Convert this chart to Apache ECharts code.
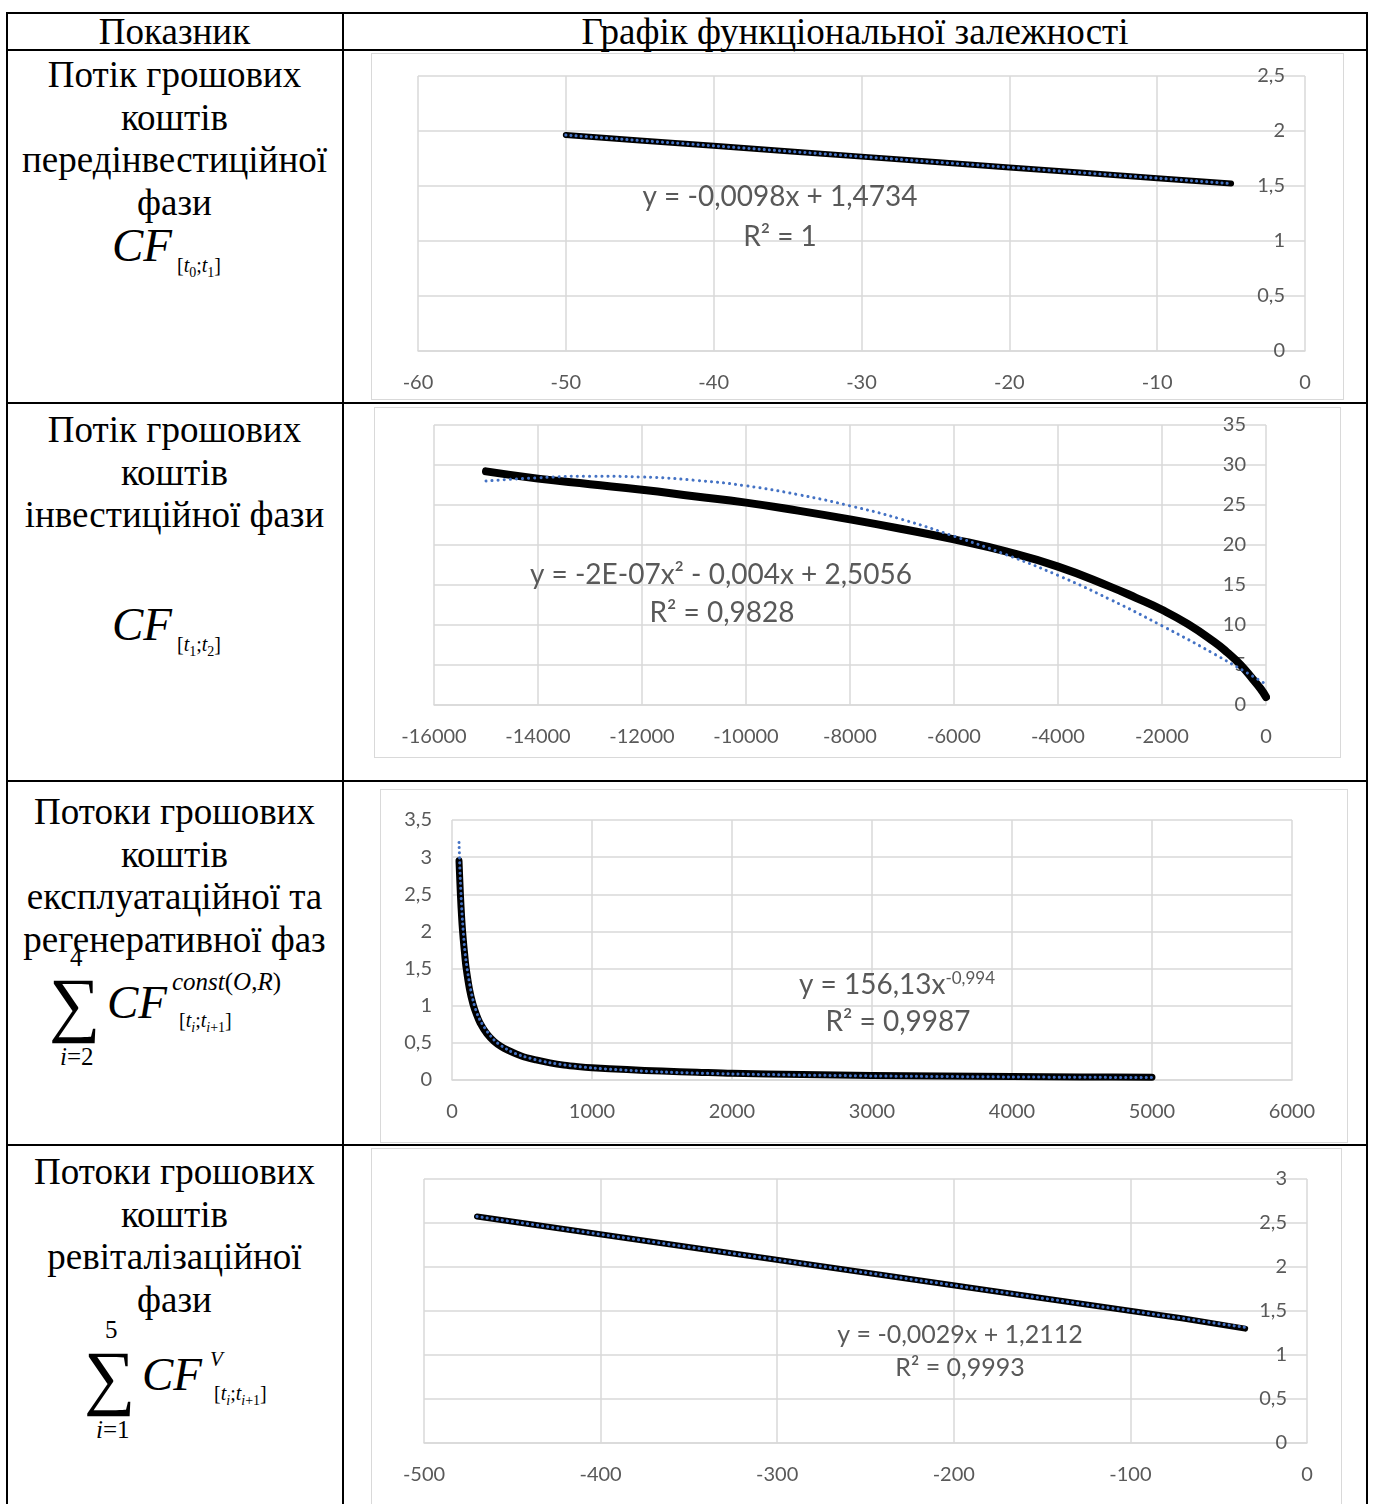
<!DOCTYPE html>
<html>
<head>
<meta charset="utf-8">
<script src="https://cdn.jsdelivr.net/npm/echarts@6/dist/echarts.min.js"></script>
<style>
body { margin: 0; background: #fff; }
#page { position: relative; width: 1375px; height: 1504px; overflow: hidden; font-family: 'Liberation Serif', 'Times New Roman', serif; color: #000; }
.ln { position: absolute; background: #000; }
.t { position: absolute; white-space: nowrap; }
.cell { position: absolute; left: 6px; width: 337px; text-align: center; font-size: 37px; line-height: 42.7px; }
.chart { position: absolute; outline: 1.5px solid #d9d9d9; }
.sb { font-size: 14px; }
i { font-style: italic; }
</style>
</head>
<body>
<div id="page">
  <!-- table lines -->
  <div class="ln" style="left:6px;top:12px;width:1362px;height:2px"></div>
  <div class="ln" style="left:6px;top:49px;width:1362px;height:2px"></div>
  <div class="ln" style="left:6px;top:402px;width:1362px;height:2px"></div>
  <div class="ln" style="left:6px;top:780px;width:1362px;height:2px"></div>
  <div class="ln" style="left:6px;top:1144px;width:1362px;height:2px"></div>
  <div class="ln" style="left:6px;top:12px;width:2px;height:1492px"></div>
  <div class="ln" style="left:342px;top:12px;width:2px;height:1492px"></div>
  <div class="ln" style="left:1366px;top:12px;width:2px;height:1492px"></div>

  <!-- header -->
  <div class="cell" style="top:11px">Показник</div>
  <div class="cell" style="top:11px;left:343px;width:1024px">Графік функціональної залежності</div>

  <!-- left column -->
  <div class="cell" style="top:54px">Потік грошових<br>коштів<br>передінвестиційної<br>фази</div>
  <div class="t" style="left:112px;top:222px;font-size:47px;line-height:46px"><i>CF</i></div>
  <div class="t" style="left:177px;top:254px;font-size:20px;line-height:22px">[<i>t</i><sub class="sb">0</sub>;<i>t</i><sub class="sb">1</sub>]</div>

  <div class="cell" style="top:409px">Потік грошових<br>коштів<br>інвестиційної фази</div>
  <div class="t" style="left:112px;top:601px;font-size:47px;line-height:46px"><i>CF</i></div>
  <div class="t" style="left:177px;top:633px;font-size:20px;line-height:22px">[<i>t</i><sub class="sb">1</sub>;<i>t</i><sub class="sb">2</sub>]</div>

  <div class="cell" style="top:791px">Потоки грошових<br>коштів<br>експлуатаційної та<br>регенеративної фаз</div>
  <div class="t" style="left:70px;top:946px;font-size:25px;line-height:24px">4</div>
  <div class="t" style="left:49px;top:966px;font-size:72px;line-height:76px">∑</div>
  <div class="t" style="left:60px;top:1045px;font-size:25px;line-height:24px"><i>i</i>=2</div>
  <div class="t" style="left:107px;top:979px;font-size:47px;line-height:46px"><i>CF</i></div>
  <div class="t" style="left:172px;top:970px;font-size:25px;line-height:24px"><i>const</i>(<i>O</i>,<i>R</i>)</div>
  <div class="t" style="left:179px;top:1009px;font-size:20px;line-height:22px">[<i>t<sub class="sb">i</sub></i>;<i>t<sub class="sb">i</sub></i><sub class="sb">+1</sub>]</div>

  <div class="cell" style="top:1151px">Потоки грошових<br>коштів<br>ревіталізаційної<br>фази</div>
  <div class="t" style="left:105px;top:1318px;font-size:25px;line-height:24px">5</div>
  <div class="t" style="left:84px;top:1339px;font-size:72px;line-height:76px">∑</div>
  <div class="t" style="left:96px;top:1418px;font-size:25px;line-height:24px"><i>i</i>=1</div>
  <div class="t" style="left:142px;top:1351px;font-size:47px;line-height:46px"><i>CF</i></div>
  <div class="t" style="left:210px;top:1349px;font-size:21px;line-height:20px"><i>V</i></div>
  <div class="t" style="left:214px;top:1382px;font-size:20px;line-height:22px">[<i>t<sub class="sb">i</sub></i>;<i>t<sub class="sb">i</sub></i><sub class="sb">+1</sub>]</div>

  <div id="c1" class="chart" style="left:372px;top:54px;width:971px;height:345px"></div>
  <div id="c2" class="chart" style="left:375px;top:408px;width:965px;height:349px"></div>
  <div id="c3" class="chart" style="left:381px;top:790px;width:966px;height:352px"></div>
  <div id="c4" class="chart" style="left:372px;top:1149px;width:969px;height:370px"></div>
</div>

<script>
// CF [t0;t1] - передінвестиційна фаза
const cf1X = [-50, -45, -40, -35, -30, -25, -20, -15, -10, -5];
const cf1Y = [1.963, 1.914, 1.865, 1.816, 1.767, 1.718, 1.669, 1.620, 1.571, 1.522];
const cf1TrendX = [-50, -5];
const cf1TrendY = [1.963, 1.522];

// CF [t1;t2] - інвестиційна фаза
const cf2X = [-15000, -14000, -13000, -12000, -11000, -10000, -9000, -8000, -7000, -6000, -5000, -4000, -3000, -2500, -2000, -1500, -1000, -750, -500, -250, -100, 0];
const cf2Y = [29.2, 28.3, 27.6, 26.9, 26.1, 25.3, 24.3, 23.2, 22.0, 20.7, 19.2, 17.3, 14.8, 13.4, 11.9, 10.1, 7.9, 6.6, 5.1, 3.2, 2.0, 1.0];
const cf2TrendX = [-15000, -14000, -13000, -12000, -11000, -10000, -9000, -8000, -7000, -6000, -5000, -4000, -3000, -2000, -1000, 0];
const cf2TrendY = [28.0, 28.4, 28.6, 28.5, 28.1, 27.4, 26.3, 24.9, 23.2, 21.1, 18.8, 16.2, 13.2, 9.9, 6.4, 2.6];

// експлуатаційна та регенеративна фази
const cf3X = [50, 60, 70, 80, 90, 100, 125, 150, 175, 200, 250, 300, 350, 400, 500, 600, 700, 800, 900, 1000, 1250, 1500, 1750, 2000, 2500, 3000, 3500, 4000, 4500, 5000];
const cf3Y = [2.95, 2.5, 2.15, 1.9, 1.7, 1.52, 1.22, 1.02, 0.88, 0.77, 0.62, 0.52, 0.45, 0.40, 0.32, 0.27, 0.23, 0.20, 0.18, 0.165, 0.14, 0.12, 0.105, 0.09, 0.075, 0.062, 0.054, 0.047, 0.041, 0.036];
const cf3TrendX = [50, 60, 75, 100, 150, 200, 300, 400, 500, 700, 1000, 1500, 2000, 3000, 4000, 5000];
const cf3TrendY = [3.197, 2.667, 2.136, 1.605, 1.073, 0.806, 0.539, 0.405, 0.324, 0.232, 0.163, 0.109, 0.082, 0.055, 0.041, 0.033];

// ревіталізаційна фаза
const cf4X = [-470, -420, -370, -320, -270, -220, -170, -120, -70, -35];
const cf4Y = [2.574, 2.429, 2.284, 2.139, 1.994, 1.849, 1.704, 1.559, 1.414, 1.30];
const cf4TrendX = [-470, -35];
const cf4TrendY = [2.574, 1.313];

const grey = '#595959';
const gridGrey = '#d9d9d9';

function pairs(xs, ys) {
    return xs.map((x, i) => [x, ys[i]]);
}

function comma(v) {
    return String(v).replace('.', ',');
}

function xAxisCfg(min, max, step) {
    return {
        type: 'value', min: min, max: max, interval: step,
        axisLine: { show: true, lineStyle: { color: gridGrey, width: 1.5 } },
        axisTick: { show: false },
        axisLabel: { color: grey, fontSize: 20, fontFamily: 'Lato', margin: 22, formatter: comma },
        splitLine: { show: true, lineStyle: { color: gridGrey, width: 1.5 } }
    };
}

function yAxisCfg(max, step, right) {
    return {
        type: 'value', min: 0, max: max, interval: step,
        position: right ? 'right' : 'left',
        axisLine: { show: false },
        axisTick: { show: false },
        axisLabel: { inside: !!right, color: grey, fontSize: 20, fontFamily: 'Lato', margin: 20, formatter: comma },
        splitLine: { show: true, lineStyle: { color: gridGrey, width: 1.5 } }
    };
}

function dataLine(pts, w, smooth) {
    return {
        type: 'line', data: pts, symbol: 'none', smooth: smooth, z: 2,
        lineStyle: { color: '#000', width: w, cap: 'round', join: 'round' }
    };
}

function trendLine(pts, gap, smooth) {
    return {
        type: 'line', data: pts, symbol: 'none', smooth: smooth, z: 3,
        lineStyle: { color: '#4472c4', width: 3, type: [0.1, gap], cap: 'round' }
    };
}

function label(x, y, text, size, rich) {
    return {
        type: 'text', x: x, y: y, z: 10,
        style: {
            text: text, align: 'center', verticalAlign: 'middle',
            fontSize: size, fontFamily: 'Lato', fill: grey, rich: rich
        }
    };
}

function draw(id, opt) {
    let chart = echarts.init(document.getElementById(id));
    opt.animation = false;
    chart.setOption(opt);
}

draw('c1', {
    grid: { left: 46, top: 22, width: 887, height: 275 },
    xAxis: xAxisCfg(-60, 0, 10),
    yAxis: yAxisCfg(2.5, 0.5, true),
    series: [
        dataLine(pairs(cf1X, cf1Y), 6, false),
        trendLine(pairs(cf1TrendX, cf1TrendY), 5, false)
    ],
    graphic: [
        label(408, 143, 'y = -0,0098x + 1,4734', 28),
        label(408, 183, 'R² = 1', 28)
    ]
});

draw('c2', {
    grid: { left: 59, top: 17, width: 832, height: 280 },
    xAxis: xAxisCfg(-16000, 0, 2000),
    yAxis: yAxisCfg(35, 5, true),
    series: [
        dataLine(pairs(cf2X, cf2Y), 8, true),
        trendLine(pairs(cf2TrendX, cf2TrendY), 6, true)
    ],
    graphic: [
        label(346, 167, 'y = -2E-07x² - 0,004x + 2,5056', 28),
        label(347, 205, 'R² = 0,9828', 28)
    ]
});

draw('c3', {
    grid: { left: 71, top: 30, width: 840, height: 260 },
    xAxis: xAxisCfg(0, 6000, 1000),
    yAxis: yAxisCfg(3.5, 0.5, false),
    series: [
        dataLine(pairs(cf3X, cf3Y), 7, 0.3),
        trendLine(pairs(cf3TrendX, cf3TrendY), 5, 0.3)
    ],
    graphic: [
        label(516, 195, '{m|y = 156,13x}{s|-0,994}', 28, {
            m: { fontSize: 28, fontFamily: 'Lato', fill: grey, color: grey },
            s: { fontSize: 17, fontFamily: 'Lato', fill: grey, color: grey, verticalAlign: 'top', padding: [0, 0, 12, 0] }
        }),
        label(517, 232, 'R² = 0,9987', 28)
    ]
});

draw('c4', {
    grid: { left: 52, top: 30, width: 883, height: 264 },
    xAxis: xAxisCfg(-500, 0, 100),
    yAxis: yAxisCfg(3, 0.5, true),
    series: [
        dataLine(pairs(cf4X, cf4Y), 6, false),
        trendLine(pairs(cf4TrendX, cf4TrendY), 5, false)
    ],
    graphic: [
        label(588, 186, 'y = -0,0029x + 1,2112', 25),
        label(588, 219, 'R² = 0,9993', 25)
    ]
});
</script>
</body>
</html>
